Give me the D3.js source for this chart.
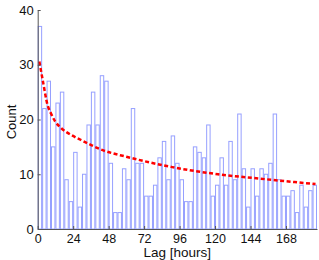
<!DOCTYPE html>
<html>
<head>
<meta charset="utf-8">
<script src="https://cdn.jsdelivr.net/npm/d3@7"></script>
<style>
  html, body { margin: 0; padding: 0; background: #fff; }
  svg { display: block; font-family: "Liberation Sans", Arial, sans-serif; }
</style>
</head>
<body>
<svg id="chart" width="319" height="260"></svg>
<script>
// ---- data ----
const binWidthHours = 3;
const counts = [37, 22, 27, 15, 23, 25, 9, 5, 14, 4,
                10, 19, 25, 19, 28, 27, 12, 3, 3, 11,
                9, 22, 12, 12, 6, 6, 8, 13, 16, 9,
                17, 12, 9, 5, 5, 15, 14, 13, 19, 6,
                8, 13, 8, 16, 9, 21, 11, 4, 11, 6,
                11, 10, 12, 21, 9, 6, 6, 7, 3, 8,
                4, 7, 8];
const fitHours  = [1.1, 3.8, 6.5, 9, 11.7, 16, 20, 29, 44, 60, 91, 122, 154, 188];
const fitValues = [30.6, 26.6, 22.8, 21.1, 19.7, 18.4, 17.6, 16.3, 14.4, 13.2, 11.3, 10.0, 9.1, 8.2];
const xTicks = [0, 24, 48, 72, 96, 120, 144, 168];
const yTicks = [0, 10, 20, 30, 40];
const xLabel = "Lag [hours]";
const yLabel = "Count";

// ---- layout ----
const mLeft = 37.7, mRight = 317, mTop = 10, mBottom = 229;
const svg = d3.select("#chart");

const x = d3.scaleLinear().domain([0, counts.length * binWidthHours]).range([mLeft, mRight]);
const y = d3.scaleLinear().domain([0, 40]).range([mBottom, mTop]);

// bars
svg.append("g").selectAll("rect")
  .data(counts)
  .join("rect")
  .attr("x", (d, i) => x(i * binWidthHours) + 0.5)
  .attr("width", (d, i) => x((i + 1) * binWidthHours) - x(i * binWidthHours) - 1)
  .attr("y", d => y(d))
  .attr("height", d => y(0) - y(d))
  .attr("fill", "#fff")
  .attr("stroke", "rgb(150,160,255)")
  .attr("stroke-width", 1);

// fit curve
const line = d3.line()
  .x((d, i) => x(fitHours[i]))
  .y(d => y(d))
  .curve(d3.curveMonotoneX);
svg.append("path")
  .attr("d", line(fitValues))
  .attr("fill", "none")
  .attr("stroke", "#ff0000")
  .attr("stroke-width", 2.5)
  .attr("stroke-dasharray", "4,2.5");

// axes
const axisColor = "#555";
const gx = svg.append("g")
  .attr("transform", `translate(0,${mBottom})`)
  .call(d3.axisBottom(x).tickValues(xTicks).tickSizeInner(-3).tickSizeOuter(0).tickPadding(5));
const gy = svg.append("g")
  .attr("transform", `translate(${mLeft},0)`)
  .call(d3.axisLeft(y).tickValues(yTicks).tickSizeInner(-3).tickSizeOuter(0).tickPadding(4));

[gx, gy].forEach(g => {
  g.select(".domain").attr("stroke", axisColor);
  g.selectAll(".tick line").attr("stroke", axisColor);
  g.selectAll(".tick text").attr("fill", "#111").style("font-size", "13px");
});
gx.selectAll(".tick text").style("font-size", "12.5px");

// labels
svg.append("text")
  .attr("x", (mLeft + mRight) / 2)
  .attr("y", 257)
  .attr("text-anchor", "middle")
  .attr("fill", "#111")
  .style("font-size", "13.5px")
  .text(xLabel);

svg.append("text")
  .attr("transform", `translate(16,122) rotate(-90)`)
  .attr("text-anchor", "middle")
  .attr("fill", "#111")
  .style("font-size", "13px")
  .text(yLabel);
</script>
</body>
</html>
